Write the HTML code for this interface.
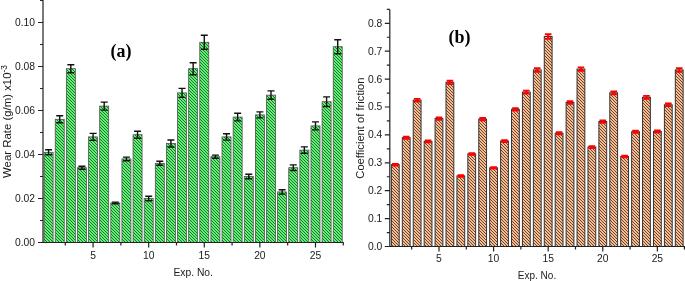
<!DOCTYPE html>
<html><head><meta charset="utf-8"><title>charts</title>
<style>
html,body{margin:0;padding:0;background:#fff;}
body{width:685px;height:281px;overflow:hidden;}
svg{display:block;}
text{font-family:"Liberation Sans",Arial,sans-serif;fill:#1a1a1a;}
.t{font-size:10.3px;}
.l{font-size:11.4px;}
.b{font-family:"Liberation Serif","Times New Roman",serif;font-weight:bold;font-size:18px;fill:#000;}
</style></head><body>
<svg width="685" height="281" viewBox="0 0 685 281">
<defs>
<pattern id="hg" width="3" height="3" patternUnits="userSpaceOnUse">
<rect width="3" height="3" fill="#63f077"/>
<path d="M-1,-1 L4,4 M-1,2 L1,4 M2,-1 L4,1" stroke="#125f1e" stroke-width="0.85"/>
</pattern>
<pattern id="ho" width="3" height="3" patternUnits="userSpaceOnUse">
<rect width="3" height="3" fill="#f6bc92"/>
<path d="M-1,-1 L4,4 M-1,2 L1,4 M2,-1 L4,1" stroke="#6a4630" stroke-width="1.0"/>
</pattern>
</defs>
<rect width="685" height="281" fill="#fff"/>

<g id="left">
<rect x="44.1" y="152.3" width="9" height="90.2" fill="url(#hg)" stroke="#4a4a4a" stroke-width="0.75"/>
<rect x="55.22" y="119.3" width="9" height="123.2" fill="url(#hg)" stroke="#4a4a4a" stroke-width="0.75"/>
<rect x="66.34" y="68.7" width="9" height="173.8" fill="url(#hg)" stroke="#4a4a4a" stroke-width="0.75"/>
<rect x="77.46" y="167.7" width="9" height="74.8" fill="url(#hg)" stroke="#4a4a4a" stroke-width="0.75"/>
<rect x="88.58" y="136.9" width="9" height="105.6" fill="url(#hg)" stroke="#4a4a4a" stroke-width="0.75"/>
<rect x="99.7" y="106.1" width="9" height="136.4" fill="url(#hg)" stroke="#4a4a4a" stroke-width="0.75"/>
<rect x="110.82" y="202.9" width="9" height="39.6" fill="url(#hg)" stroke="#4a4a4a" stroke-width="0.75"/>
<rect x="121.94" y="158.9" width="9" height="83.6" fill="url(#hg)" stroke="#4a4a4a" stroke-width="0.75"/>
<rect x="133.06" y="134.7" width="9" height="107.8" fill="url(#hg)" stroke="#4a4a4a" stroke-width="0.75"/>
<rect x="144.18" y="198.5" width="9" height="44" fill="url(#hg)" stroke="#4a4a4a" stroke-width="0.75"/>
<rect x="155.3" y="163.3" width="9" height="79.2" fill="url(#hg)" stroke="#4a4a4a" stroke-width="0.75"/>
<rect x="166.42" y="143.5" width="9" height="99" fill="url(#hg)" stroke="#4a4a4a" stroke-width="0.75"/>
<rect x="177.54" y="92.9" width="9" height="149.6" fill="url(#hg)" stroke="#4a4a4a" stroke-width="0.75"/>
<rect x="188.66" y="68.7" width="9" height="173.8" fill="url(#hg)" stroke="#4a4a4a" stroke-width="0.75"/>
<rect x="199.78" y="42.3" width="9" height="200.2" fill="url(#hg)" stroke="#4a4a4a" stroke-width="0.75"/>
<rect x="210.9" y="156.7" width="9" height="85.8" fill="url(#hg)" stroke="#4a4a4a" stroke-width="0.75"/>
<rect x="222.02" y="136.9" width="9" height="105.6" fill="url(#hg)" stroke="#4a4a4a" stroke-width="0.75"/>
<rect x="233.14" y="117.1" width="9" height="125.4" fill="url(#hg)" stroke="#4a4a4a" stroke-width="0.75"/>
<rect x="244.26" y="176.5" width="9" height="66" fill="url(#hg)" stroke="#4a4a4a" stroke-width="0.75"/>
<rect x="255.38" y="114.9" width="9" height="127.6" fill="url(#hg)" stroke="#4a4a4a" stroke-width="0.75"/>
<rect x="266.5" y="95.1" width="9" height="147.4" fill="url(#hg)" stroke="#4a4a4a" stroke-width="0.75"/>
<rect x="277.62" y="191.9" width="9" height="50.6" fill="url(#hg)" stroke="#4a4a4a" stroke-width="0.75"/>
<rect x="288.74" y="167.7" width="9" height="74.8" fill="url(#hg)" stroke="#4a4a4a" stroke-width="0.75"/>
<rect x="299.86" y="150.1" width="9" height="92.4" fill="url(#hg)" stroke="#4a4a4a" stroke-width="0.75"/>
<rect x="310.98" y="125.9" width="9" height="116.6" fill="url(#hg)" stroke="#4a4a4a" stroke-width="0.75"/>
<rect x="322.1" y="101.7" width="9" height="140.8" fill="url(#hg)" stroke="#4a4a4a" stroke-width="0.75"/>
<rect x="333.22" y="46.7" width="9" height="195.8" fill="url(#hg)" stroke="#4a4a4a" stroke-width="0.75"/>
<path d="M48.6,149.8 V154.8 M45.1,149.8 H52.1 M45.1,154.8 H52.1" stroke="#111" stroke-width="1.4" fill="none"/>
<path d="M59.72,115.8 V122.8 M56.22,115.8 H63.22 M56.22,122.8 H63.22" stroke="#111" stroke-width="1.4" fill="none"/>
<path d="M70.84,64.7 V72.7 M67.34,64.7 H74.34 M67.34,72.7 H74.34" stroke="#111" stroke-width="1.4" fill="none"/>
<path d="M81.96,166.2 V169.2 M78.46,166.2 H85.46 M78.46,169.2 H85.46" stroke="#111" stroke-width="1.4" fill="none"/>
<path d="M93.08,133.4 V140.4 M89.58,133.4 H96.58 M89.58,140.4 H96.58" stroke="#111" stroke-width="1.4" fill="none"/>
<path d="M104.2,102.1 V110.1 M100.7,102.1 H107.7 M100.7,110.1 H107.7" stroke="#111" stroke-width="1.4" fill="none"/>
<path d="M115.32,202.1 V203.7 M111.82,202.1 H118.82 M111.82,203.7 H118.82" stroke="#111" stroke-width="1.4" fill="none"/>
<path d="M126.44,157.1 V160.7 M122.94,157.1 H129.94 M122.94,160.7 H129.94" stroke="#111" stroke-width="1.4" fill="none"/>
<path d="M137.56,131.2 V138.2 M134.06,131.2 H141.06 M134.06,138.2 H141.06" stroke="#111" stroke-width="1.4" fill="none"/>
<path d="M148.68,196.3 V200.7 M145.18,196.3 H152.18 M145.18,200.7 H152.18" stroke="#111" stroke-width="1.4" fill="none"/>
<path d="M159.8,161.3 V165.3 M156.3,161.3 H163.3 M156.3,165.3 H163.3" stroke="#111" stroke-width="1.4" fill="none"/>
<path d="M170.92,140 V147 M167.42,140 H174.42 M167.42,147 H174.42" stroke="#111" stroke-width="1.4" fill="none"/>
<path d="M182.04,88.4 V97.4 M178.54,88.4 H185.54 M178.54,97.4 H185.54" stroke="#111" stroke-width="1.4" fill="none"/>
<path d="M193.16,62.7 V74.7 M189.66,62.7 H196.66 M189.66,74.7 H196.66" stroke="#111" stroke-width="1.4" fill="none"/>
<path d="M204.28,35.3 V49.3 M200.78,35.3 H207.78 M200.78,49.3 H207.78" stroke="#111" stroke-width="1.4" fill="none"/>
<path d="M215.4,155.1 V158.3 M211.9,155.1 H218.9 M211.9,158.3 H218.9" stroke="#111" stroke-width="1.4" fill="none"/>
<path d="M226.52,133.7 V140.1 M223.02,133.7 H230.02 M223.02,140.1 H230.02" stroke="#111" stroke-width="1.4" fill="none"/>
<path d="M237.64,113.3 V120.9 M234.14,113.3 H241.14 M234.14,120.9 H241.14" stroke="#111" stroke-width="1.4" fill="none"/>
<path d="M248.76,174.3 V178.7 M245.26,174.3 H252.26 M245.26,178.7 H252.26" stroke="#111" stroke-width="1.4" fill="none"/>
<path d="M259.88,111.9 V117.9 M256.38,111.9 H263.38 M256.38,117.9 H263.38" stroke="#111" stroke-width="1.4" fill="none"/>
<path d="M271,90.9 V99.3 M267.5,90.9 H274.5 M267.5,99.3 H274.5" stroke="#111" stroke-width="1.4" fill="none"/>
<path d="M282.12,189.7 V194.1 M278.62,189.7 H285.62 M278.62,194.1 H285.62" stroke="#111" stroke-width="1.4" fill="none"/>
<path d="M293.24,164.9 V170.5 M289.74,164.9 H296.74 M289.74,170.5 H296.74" stroke="#111" stroke-width="1.4" fill="none"/>
<path d="M304.36,146.9 V153.3 M300.86,146.9 H307.86 M300.86,153.3 H307.86" stroke="#111" stroke-width="1.4" fill="none"/>
<path d="M315.48,121.9 V129.9 M311.98,121.9 H318.98 M311.98,129.9 H318.98" stroke="#111" stroke-width="1.4" fill="none"/>
<path d="M326.6,96.9 V106.5 M323.1,96.9 H330.1 M323.1,106.5 H330.1" stroke="#111" stroke-width="1.4" fill="none"/>
<path d="M337.72,39.7 V53.7 M334.22,39.7 H341.22 M334.22,53.7 H341.22" stroke="#111" stroke-width="1.4" fill="none"/>
<path d="M43.0,0.0 V242.5 H343.8" stroke="#222" stroke-width="1.2" fill="none"/>
<path d="M43.0,242.5 h-5 M43.0,220.5 h-3 M43.0,198.5 h-5 M43.0,176.5 h-3 M43.0,154.5 h-5 M43.0,132.5 h-3 M43.0,110.5 h-5 M43.0,88.5 h-3 M43.0,66.5 h-5 M43.0,44.5 h-3 M43.0,22.5 h-5 M43.0,0.5 h-3 M65.28,242.5 v3 M93.08,242.5 v5 M120.88,242.5 v3 M148.68,242.5 v5 M176.48,242.5 v3 M204.28,242.5 v5 M232.08,242.5 v3 M259.88,242.5 v5 M287.68,242.5 v3 M315.48,242.5 v5 M343.28,242.5 v3 " stroke="#222" stroke-width="1.2" fill="none"/>
<text class="t" x="35" y="246.1" text-anchor="end">0.00</text>
<text class="t" x="35" y="202.1" text-anchor="end">0.02</text>
<text class="t" x="35" y="158.1" text-anchor="end">0.04</text>
<text class="t" x="35" y="114.1" text-anchor="end">0.06</text>
<text class="t" x="35" y="70.1" text-anchor="end">0.08</text>
<text class="t" x="35" y="26.1" text-anchor="end">0.10</text>
<text class="t" x="93.08" y="259" text-anchor="middle">5</text>
<text class="t" x="148.68" y="259" text-anchor="middle">10</text>
<text class="t" x="204.28" y="259" text-anchor="middle">15</text>
<text class="t" x="259.88" y="259" text-anchor="middle">20</text>
<text class="t" x="315.48" y="259" text-anchor="middle">25</text>
<text class="t" x="193.2" y="276.2" text-anchor="middle">Exp. No.</text>
<text class="l" transform="translate(11.2,178) rotate(-90)">Wear Rate (g/m) x10<tspan dy="-4.6" font-size="8.4">-3</tspan></text>
<text class="b" x="110.5" y="56.6">(a)</text>
</g>
<g id="right">
<rect x="391.4" y="164.61" width="7.8" height="81.89" fill="url(#ho)" stroke="#333" stroke-width="1"/>
<rect x="402.32" y="137.69" width="7.8" height="108.81" fill="url(#ho)" stroke="#333" stroke-width="1"/>
<rect x="413.24" y="100.16" width="7.8" height="146.34" fill="url(#ho)" stroke="#333" stroke-width="1"/>
<rect x="424.16" y="141.32" width="7.8" height="105.18" fill="url(#ho)" stroke="#333" stroke-width="1"/>
<rect x="435.08" y="118.58" width="7.8" height="127.92" fill="url(#ho)" stroke="#333" stroke-width="1"/>
<rect x="446" y="82.31" width="7.8" height="164.19" fill="url(#ho)" stroke="#333" stroke-width="1"/>
<rect x="456.92" y="175.91" width="7.8" height="70.59" fill="url(#ho)" stroke="#333" stroke-width="1"/>
<rect x="467.84" y="153.87" width="7.8" height="92.63" fill="url(#ho)" stroke="#333" stroke-width="1"/>
<rect x="478.76" y="119.14" width="7.8" height="127.36" fill="url(#ho)" stroke="#333" stroke-width="1"/>
<rect x="489.68" y="167.82" width="7.8" height="78.68" fill="url(#ho)" stroke="#333" stroke-width="1"/>
<rect x="500.6" y="141.04" width="7.8" height="105.46" fill="url(#ho)" stroke="#333" stroke-width="1"/>
<rect x="511.52" y="109.32" width="7.8" height="137.18" fill="url(#ho)" stroke="#333" stroke-width="1"/>
<rect x="522.44" y="92.1" width="7.8" height="154.4" fill="url(#ho)" stroke="#333" stroke-width="1"/>
<rect x="533.36" y="69.89" width="7.8" height="176.61" fill="url(#ho)" stroke="#333" stroke-width="1"/>
<rect x="544.28" y="36.5" width="7.8" height="210" fill="url(#ho)" stroke="#333" stroke-width="1"/>
<rect x="555.2" y="133.23" width="7.8" height="113.27" fill="url(#ho)" stroke="#333" stroke-width="1"/>
<rect x="566.12" y="102.4" width="7.8" height="144.1" fill="url(#ho)" stroke="#333" stroke-width="1"/>
<rect x="577.04" y="69.06" width="7.8" height="177.44" fill="url(#ho)" stroke="#333" stroke-width="1"/>
<rect x="587.96" y="147.04" width="7.8" height="99.46" fill="url(#ho)" stroke="#333" stroke-width="1"/>
<rect x="598.88" y="121.51" width="7.8" height="124.99" fill="url(#ho)" stroke="#333" stroke-width="1"/>
<rect x="609.8" y="92.77" width="7.8" height="153.73" fill="url(#ho)" stroke="#333" stroke-width="1"/>
<rect x="620.72" y="156.38" width="7.8" height="90.12" fill="url(#ho)" stroke="#333" stroke-width="1"/>
<rect x="631.64" y="131.69" width="7.8" height="114.81" fill="url(#ho)" stroke="#333" stroke-width="1"/>
<rect x="642.56" y="97.23" width="7.8" height="149.27" fill="url(#ho)" stroke="#333" stroke-width="1"/>
<rect x="653.48" y="131.41" width="7.8" height="115.09" fill="url(#ho)" stroke="#333" stroke-width="1"/>
<rect x="664.4" y="104.77" width="7.8" height="141.73" fill="url(#ho)" stroke="#333" stroke-width="1"/>
<rect x="675.32" y="69.89" width="7.8" height="176.61" fill="url(#ho)" stroke="#333" stroke-width="1"/>
<path d="M392,163.85 H398.6 M392,165.53 H398.6" stroke="#f00" stroke-width="1.8" fill="none"/><path d="M395.3,163.85 V165.38" stroke="#f00" stroke-width="2.1" fill="none"/>
<path d="M402.92,136.72 H409.52 M402.92,138.81 H409.52" stroke="#f00" stroke-width="1.8" fill="none"/><path d="M406.22,136.72 V138.66" stroke="#f00" stroke-width="2.1" fill="none"/>
<path d="M413.84,98.81 H420.44 M413.84,101.67 H420.44" stroke="#f00" stroke-width="1.8" fill="none"/><path d="M417.14,98.81 V101.52" stroke="#f00" stroke-width="2.1" fill="none"/>
<path d="M424.76,140.37 H431.36 M424.76,142.41 H431.36" stroke="#f00" stroke-width="1.8" fill="none"/><path d="M428.06,140.37 V142.26" stroke="#f00" stroke-width="2.1" fill="none"/>
<path d="M435.68,117.42 H442.28 M435.68,119.88 H442.28" stroke="#f00" stroke-width="1.8" fill="none"/><path d="M438.98,117.42 V119.73" stroke="#f00" stroke-width="2.1" fill="none"/>
<path d="M446.6,80.73 H453.2 M446.6,84.04 H453.2" stroke="#f00" stroke-width="1.8" fill="none"/><path d="M449.9,80.73 V83.89" stroke="#f00" stroke-width="2.1" fill="none"/>
<path d="M457.52,175.21 H464.12 M457.52,176.76 H464.12" stroke="#f00" stroke-width="1.8" fill="none"/><path d="M460.82,175.21 V176.61" stroke="#f00" stroke-width="2.1" fill="none"/>
<path d="M468.44,153.03 H475.04 M468.44,154.87 H475.04" stroke="#f00" stroke-width="1.8" fill="none"/><path d="M471.74,153.03 V154.72" stroke="#f00" stroke-width="2.1" fill="none"/>
<path d="M479.36,117.99 H485.96 M479.36,120.44 H485.96" stroke="#f00" stroke-width="1.8" fill="none"/><path d="M482.66,117.99 V120.29" stroke="#f00" stroke-width="2.1" fill="none"/>
<path d="M490.28,167.07 H496.88 M490.28,168.72 H496.88" stroke="#f00" stroke-width="1.8" fill="none"/><path d="M493.58,167.07 V168.57" stroke="#f00" stroke-width="2.1" fill="none"/>
<path d="M501.2,140.09 H507.8 M501.2,142.13 H507.8" stroke="#f00" stroke-width="1.8" fill="none"/><path d="M504.5,140.09 V141.98" stroke="#f00" stroke-width="2.1" fill="none"/>
<path d="M512.12,108.06 H518.72 M512.12,110.72 H518.72" stroke="#f00" stroke-width="1.8" fill="none"/><path d="M515.42,108.06 V110.57" stroke="#f00" stroke-width="2.1" fill="none"/>
<path d="M523.04,90.65 H529.64 M523.04,93.7 H529.64" stroke="#f00" stroke-width="1.8" fill="none"/><path d="M526.34,90.65 V93.55" stroke="#f00" stroke-width="2.1" fill="none"/>
<path d="M533.96,68.15 H540.56 M533.96,71.79 H540.56" stroke="#f00" stroke-width="1.8" fill="none"/><path d="M537.26,68.15 V71.64" stroke="#f00" stroke-width="2.1" fill="none"/>
<path d="M544.88,34.23 H551.48 M544.88,38.91 H551.48" stroke="#f00" stroke-width="1.8" fill="none"/><path d="M548.18,34.23 V38.76" stroke="#f00" stroke-width="2.1" fill="none"/>
<path d="M555.8,132.21 H562.4 M555.8,134.39 H562.4" stroke="#f00" stroke-width="1.8" fill="none"/><path d="M559.1,132.21 V134.24" stroke="#f00" stroke-width="2.1" fill="none"/>
<path d="M566.72,101.07 H573.32 M566.72,103.88 H573.32" stroke="#f00" stroke-width="1.8" fill="none"/><path d="M570.02,101.07 V103.73" stroke="#f00" stroke-width="2.1" fill="none"/>
<path d="M577.64,67.3 H584.24 M577.64,70.97 H584.24" stroke="#f00" stroke-width="1.8" fill="none"/><path d="M580.94,67.3 V70.82" stroke="#f00" stroke-width="2.1" fill="none"/>
<path d="M588.56,146.14 H595.16 M588.56,148.08 H595.16" stroke="#f00" stroke-width="1.8" fill="none"/><path d="M591.86,146.14 V147.93" stroke="#f00" stroke-width="2.1" fill="none"/>
<path d="M599.48,120.38 H606.08 M599.48,122.78 H606.08" stroke="#f00" stroke-width="1.8" fill="none"/><path d="M602.78,120.38 V122.63" stroke="#f00" stroke-width="2.1" fill="none"/>
<path d="M610.4,91.33 H617 M610.4,94.37 H617" stroke="#f00" stroke-width="1.8" fill="none"/><path d="M613.7,91.33 V94.22" stroke="#f00" stroke-width="2.1" fill="none"/>
<path d="M621.32,155.56 H627.92 M621.32,157.36 H627.92" stroke="#f00" stroke-width="1.8" fill="none"/><path d="M624.62,155.56 V157.21" stroke="#f00" stroke-width="2.1" fill="none"/>
<path d="M632.24,130.66 H638.84 M632.24,132.87 H638.84" stroke="#f00" stroke-width="1.8" fill="none"/><path d="M635.54,130.66 V132.72" stroke="#f00" stroke-width="2.1" fill="none"/>
<path d="M643.16,95.84 H649.76 M643.16,98.78 H649.76" stroke="#f00" stroke-width="1.8" fill="none"/><path d="M646.46,95.84 V98.63" stroke="#f00" stroke-width="2.1" fill="none"/>
<path d="M654.08,130.38 H660.68 M654.08,132.59 H660.68" stroke="#f00" stroke-width="1.8" fill="none"/><path d="M657.38,130.38 V132.44" stroke="#f00" stroke-width="2.1" fill="none"/>
<path d="M665,103.46 H671.6 M665,106.22 H671.6" stroke="#f00" stroke-width="1.8" fill="none"/><path d="M668.3,103.46 V106.07" stroke="#f00" stroke-width="2.1" fill="none"/>
<path d="M675.92,68.15 H682.52 M675.92,71.79 H682.52" stroke="#f00" stroke-width="1.8" fill="none"/><path d="M679.22,68.15 V71.64" stroke="#f00" stroke-width="2.1" fill="none"/>
<path d="M389.8,9.4 V246.5 H685.0" stroke="#222" stroke-width="1.2" fill="none"/>
<path d="M389.8,246.5 h-5 M389.8,232.55 h-3 M389.8,218.6 h-5 M389.8,204.65 h-3 M389.8,190.7 h-5 M389.8,176.75 h-3 M389.8,162.8 h-5 M389.8,148.85 h-3 M389.8,134.9 h-5 M389.8,120.95 h-3 M389.8,107 h-5 M389.8,93.05 h-3 M389.8,79.1 h-5 M389.8,65.15 h-3 M389.8,51.2 h-5 M389.8,37.25 h-3 M389.8,23.3 h-5 M389.8,9.35 h-3 M411.68,246.5 v3 M438.98,246.5 v5 M466.28,246.5 v3 M493.58,246.5 v5 M520.88,246.5 v3 M548.18,246.5 v5 M575.48,246.5 v3 M602.78,246.5 v5 M630.08,246.5 v3 M657.38,246.5 v5 M684.4,246.5 v3 " stroke="#222" stroke-width="1.2" fill="none"/>
<text class="t" x="382.3" y="249.9" text-anchor="end">0.0</text>
<text class="t" x="382.3" y="222" text-anchor="end">0.1</text>
<text class="t" x="382.3" y="194.1" text-anchor="end">0.2</text>
<text class="t" x="382.3" y="166.2" text-anchor="end">0.3</text>
<text class="t" x="382.3" y="138.3" text-anchor="end">0.4</text>
<text class="t" x="382.3" y="110.4" text-anchor="end">0.5</text>
<text class="t" x="382.3" y="82.5" text-anchor="end">0.6</text>
<text class="t" x="382.3" y="54.6" text-anchor="end">0.7</text>
<text class="t" x="382.3" y="26.7" text-anchor="end">0.8</text>
<text class="t" x="438.98" y="262.4" text-anchor="middle">5</text>
<text class="t" x="493.58" y="262.4" text-anchor="middle">10</text>
<text class="t" x="548.18" y="262.4" text-anchor="middle">15</text>
<text class="t" x="602.78" y="262.4" text-anchor="middle">20</text>
<text class="t" x="657.38" y="262.4" text-anchor="middle">25</text>
<text class="t" style="font-size:10px" x="537" y="278.9" text-anchor="middle">Exp. No.</text>
<text class="l" style="font-size:11.2px" transform="translate(363.6,178.7) rotate(-90)">Coefficient of friction</text>
<text class="b" x="448.6" y="42.6">(b)</text>
</g>
</svg></body></html>
